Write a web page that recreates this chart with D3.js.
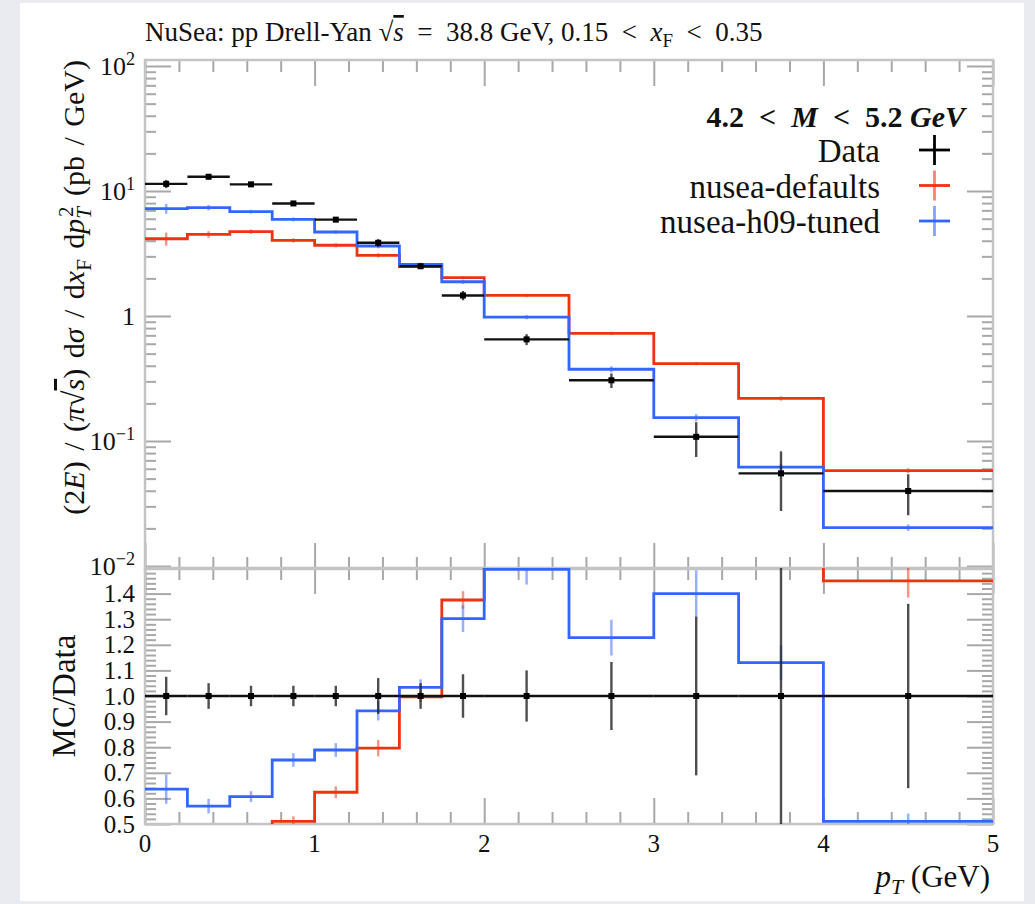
<!DOCTYPE html>
<html>
<head>
<meta charset="utf-8">
<script src="https://cdn.jsdelivr.net/npm/d3@7"></script>
<style>
  html, body { margin: 0; padding: 0; background: #e9ebf1; }
  svg { display: block; }
  text { font-family: "Liberation Serif", "DejaVu Serif", serif; fill: #111; }
</style>
</head>
<body>
<svg id="chart" width="1035" height="904"></svg>
<script>
// bins in pT (GeV)
var binEdges = [0, 0.25, 0.5, 0.75, 1.0, 1.25, 1.5, 1.75, 2.0, 2.5, 3.0, 3.5, 4.0, 5.0];

// data, pb/GeV
var dataVal    = [11.4, 13.0, 11.3, 7.95, 5.9, 3.85, 2.5, 1.46, 0.65, 0.306, 0.108, 0.0551, 0.0398];
var dataRelErr = [0.075, 0.05, 0.04, 0.04, 0.04, 0.07, 0.05, 0.085, 0.10, 0.133, 0.31, 0.50, 0.36];

// nusea-defaults
var defaultsVal    = [4.15, 4.50, 4.73, 4.03, 3.68, 3.06, 2.48, 2.03, 1.46, 0.727, 0.416, 0.219, 0.0579];
var defaultsRatio  = [0.364, 0.346, 0.419, 0.51, 0.624, 0.796, 0.997, 1.375, 2.25, 2.38, 3.85, 3.97, 1.45];
var defaultsRelErr = [0.12, 0.06, 0.04, 0.04, 0.037, 0.04, 0.02, 0.025, 0.03, 0.03, 0.03, 0.04, 0.045];

// nusea-h09-tuned
var tunedVal    = [7.22, 7.36, 6.83, 5.93, 4.70, 3.63, 2.59, 1.88, 0.98, 0.375, 0.154, 0.0619, 0.0203];
var tunedRatio  = [0.636, 0.570, 0.607, 0.75, 0.789, 0.942, 1.034, 1.302, 1.495, 1.228, 1.40, 1.13, 0.51];
var tunedRelErr = [0.09, 0.05, 0.035, 0.036, 0.034, 0.04, 0.03, 0.04, 0.04, 0.057, 0.065, 0.06, 0.06];

var xTickLabels = [0, 1, 2, 3, 4, 5];
var ratioTickLabels = [0.5, 0.6, 0.7, 0.8, 0.9, 1.0, 1.1, 1.2, 1.3, 1.4];
var mainTickLabels = [[1e2, "10", "2"], [1e1, "10", "1"], [1, "1", ""], [1e-1, "10", "\u22121"], [1e-2, "10", "\u22122"]];

var legendNames = ["Data", "nusea-defaults", "nusea-h09-tuned"];
var colors = ["#000000", "#ee3311", "#3366ff"];

// layout
var left = 145, right = 993;
var mainTop = 60, mainBot = 569, ratTop = 568, ratBot = 824;
var sp = "\u2002"; // math spacing around relations

var svg = d3.select("#chart");

svg.append("rect")
  .attr("x", 20).attr("y", 3)
  .attr("width", 1004).attr("height", 898)
  .attr("fill", "#ffffff");

var x = d3.scaleLinear().domain([0, 5]).range([left, right]);
var yMain = d3.scaleLog()
  .domain([Math.pow(10, -2.024), Math.pow(10, 2.048)])
  .range([mainBot, mainTop]);
var yRat = d3.scaleLinear().domain([0.5, 1.5]).range([ratBot, ratTop]);

// rich text: parts are [string, "flags", dx]
function rich(sel, parts, size) {
  var t = sel.append("text").style("font-size", size + "px");
  var shift = 0;
  parts.forEach(function(p) {
    var flags = (p[1] || "").split(" ");
    var ts = t.append("tspan").text(p[0]);
    var target = 0;
    if (flags.indexOf("sub") >= 0) target = 0.22 * size;
    if (flags.indexOf("sup") >= 0) target = -0.38 * size;
    ts.attr("dy", target - shift);
    shift = target;
    if (flags.indexOf("sub") >= 0 || flags.indexOf("sup") >= 0) ts.style("font-size", (0.7 * size) + "px");
    if (flags.indexOf("i") >= 0) ts.style("font-style", "italic");
    if (flags.indexOf("over") >= 0) ts.style("text-decoration", "overline");
    if (p[2] != null) ts.attr("dx", p[2]);
  });
  return t;
}

// ---- frames and ticks
function tickStyle(g) {
  g.select(".domain").remove();
  g.selectAll(".tick line").attr("stroke", "#a8a8a8").attr("stroke-width", 2);
}

var xMinor = d3.range(0, 5.0001, 0.2).filter(function(v) { return Math.abs(v - Math.round(v)) > 1e-6; });

[[mainTop, mainBot], [ratTop, ratBot]].forEach(function(p) {
  svg.append("g").attr("transform", "translate(0," + p[1] + ")")
    .call(d3.axisBottom(x).tickValues(xMinor).tickSize(-12).tickFormat("")).call(tickStyle);
  svg.append("g").attr("transform", "translate(0," + p[1] + ")")
    .call(d3.axisBottom(x).tickValues(xTickLabels).tickSize(-26).tickFormat("")).call(tickStyle);
  svg.append("g").attr("transform", "translate(0," + p[0] + ")")
    .call(d3.axisTop(x).tickValues(xMinor).tickSize(-12).tickFormat("")).call(tickStyle);
  svg.append("g").attr("transform", "translate(0," + p[0] + ")")
    .call(d3.axisTop(x).tickValues(xTickLabels).tickSize(-26).tickFormat("")).call(tickStyle);
});

var logTicks = yMain.ticks().filter(function(v) { return v >= yMain.domain()[0] && v <= yMain.domain()[1]; });
var logMajor = logTicks.filter(function(v) { return Math.abs(Math.log10(v) - Math.round(Math.log10(v))) < 1e-6; });
var logMinor = logTicks.filter(function(v) { return logMajor.indexOf(v) < 0; });

var ratMinor = d3.range(0.5, 1.5001, 0.02).filter(function(v) { return Math.abs(v * 10 - Math.round(v * 10)) > 1e-6; });
var ratMajor = d3.range(0.5, 1.5001, 0.1);

[["L", left], ["R", right]].forEach(function(s) {
  var ax = s[0] == "L" ? d3.axisLeft : d3.axisRight;
  svg.append("g").attr("transform", "translate(" + s[1] + ",0)")
    .call(ax(yMain).tickValues(logMinor).tickSize(-11).tickFormat("")).call(tickStyle);
  svg.append("g").attr("transform", "translate(" + s[1] + ",0)")
    .call(ax(yMain).tickValues(logMajor).tickSize(-26).tickFormat("")).call(tickStyle);
  svg.append("g").attr("transform", "translate(" + s[1] + ",0)")
    .call(ax(yRat).tickValues(ratMinor).tickSize(-11).tickFormat("")).call(tickStyle);
  svg.append("g").attr("transform", "translate(" + s[1] + ",0)")
    .call(ax(yRat).tickValues(ratMajor).tickSize(-26).tickFormat("")).call(tickStyle);
});

[[mainTop, mainBot], [ratTop, ratBot]].forEach(function(p) {
  svg.append("rect")
    .attr("x", left).attr("y", p[0])
    .attr("width", right - left).attr("height", p[1] - p[0])
    .attr("fill", "none").attr("stroke", "#c4c4c4").attr("stroke-width", 2.5);
});

// ---- tick labels
svg.append("g").selectAll("text")
  .data(xTickLabels).enter()
  .append("text")
  .attr("x", function(d) { return x(d); })
  .attr("y", 852)
  .attr("text-anchor", "middle")
  .style("font-size", "25px")
  .text(function(d) { return d; });

svg.append("g").selectAll("text")
  .data(ratioTickLabels).enter()
  .append("text")
  .attr("x", 135)
  .attr("y", function(d) { return yRat(d) + 8.5; })
  .attr("text-anchor", "end")
  .style("font-size", "25px")
  .text(function(d) { return d.toFixed(1); });

mainTickLabels.forEach(function(d) {
  rich(svg, [[d[1]], [d[2], "sup"]], 26)
    .attr("x", 135)
    .attr("y", yMain(d[0]) + 9)
    .attr("text-anchor", "end");
});

// ---- titles
rich(svg, [["NuSea: pp Drell-Yan "], ["\u221A"], ["s", "i over"], [sp + "=" + sp + "38.8 GeV, 0.15" + sp + "<" + sp], ["x", "i"], ["F", "sub"], [sp + "<" + sp + "0.35"]], 27)
  .attr("x", left).attr("y", 41);

rich(svg, [["p", "i"], ["T", "i sub"], [" (GeV)"]], 31)
  .attr("x", 990).attr("y", 887).attr("text-anchor", "end");

rich(svg.append("g").attr("transform", "translate(84," + mainTop + ") rotate(-90)"),
  [["(2"], ["E", "i"], [") / ("], ["\u03C0", "i"], ["\u221A"], ["s", "i over"], [") d"], ["\u03C3", "i"],
   [" / d"], ["x", "i"], ["F", "sub"], [" d"], ["p", "i"], ["T", "i sub"], ["2", "sup", -10], [" (pb / GeV)"]], 30)
  .attr("text-anchor", "end")
  .style("word-spacing", "3px");

svg.append("g").attr("transform", "translate(75," + yRat(1.0) + ") rotate(-90)")
  .append("text")
  .attr("text-anchor", "middle")
  .style("font-size", "33px")
  .text("MC/Data");

// ---- clip paths
var defs = svg.append("defs");
defs.append("clipPath").attr("id", "clipMain").append("rect")
  .attr("x", left).attr("y", mainTop).attr("width", right - left).attr("height", mainBot - mainTop);
defs.append("clipPath").attr("id", "clipRat").append("rect")
  .attr("x", left).attr("y", ratTop).attr("width", right - left).attr("height", ratBot - ratTop);

function stepPoints(vals) {
  var pts = [];
  vals.forEach(function(v, i) {
    pts.push([binEdges[i], v]);
    pts.push([binEdges[i + 1], v]);
  });
  return pts;
}

function centres() {
  return binEdges.slice(0, -1).map(function(e, i) { return (e + binEdges[i + 1]) / 2; });
}

function drawMC(g, yScale, vals, relErr, color) {
  var line = d3.line()
    .x(function(d) { return x(d[0]); })
    .y(function(d) { return yScale(d[1]); });
  var cs = centres();
  g.append("g").selectAll("line")
    .data(vals).enter()
    .append("line")
    .attr("x1", function(d, i) { return x(cs[i]); })
    .attr("x2", function(d, i) { return x(cs[i]); })
    .attr("y1", function(d, i) { return yScale(d * (1 - relErr[i])); })
    .attr("y2", function(d, i) { return yScale(d * (1 + relErr[i])); })
    .attr("stroke", color).attr("stroke-width", 2.5).attr("opacity", 0.5);
  g.append("path")
    .attr("d", line(stepPoints(vals)))
    .attr("fill", "none")
    .attr("stroke", color)
    .attr("stroke-width", 2.8)
    .attr("stroke-linejoin", "miter");
}

function drawData(g, yScale, vals, errs) {
  var cs = centres();
  var gg = g.append("g").selectAll("g")
    .data(vals).enter()
    .append("g");
  gg.append("line")
    .attr("x1", function(d, i) { return x(binEdges[i]); })
    .attr("x2", function(d, i) { return x(binEdges[i + 1]); })
    .attr("y1", function(d) { return yScale(d); })
    .attr("y2", function(d) { return yScale(d); })
    .attr("stroke", "#111").attr("stroke-width", 2.4);
  gg.append("line")
    .attr("x1", function(d, i) { return x(cs[i]); })
    .attr("x2", function(d, i) { return x(cs[i]); })
    .attr("y1", function(d, i) { return yScale(d - errs[i]); })
    .attr("y2", function(d, i) { return yScale(d + errs[i]); })
    .attr("stroke", "#222").attr("stroke-width", 2.4).attr("opacity", 0.8);
  gg.append("rect")
    .attr("x", function(d, i) { return x(cs[i]) - 3; })
    .attr("y", function(d) { return yScale(d) - 3; })
    .attr("width", 6).attr("height", 6)
    .attr("fill", "#000");
}

// ---- main panel
var gMain = svg.append("g").attr("clip-path", "url(#clipMain)");
drawMC(gMain, yMain, defaultsVal, defaultsRelErr, colors[1]);
drawMC(gMain, yMain, tunedVal, tunedRelErr, colors[2]);
drawData(gMain, yMain, dataVal, dataVal.map(function(v, i) { return v * dataRelErr[i]; }));

// ---- ratio panel
var gRat = svg.append("g").attr("clip-path", "url(#clipRat)");
drawMC(gRat, yRat, defaultsRatio, defaultsRelErr, colors[1]);
drawMC(gRat, yRat, tunedRatio, tunedRelErr, colors[2]);
drawData(gRat, yRat, dataVal.map(function() { return 1.0; }), dataRelErr);

// ---- legend
rich(svg, [["4.2" + sp + "<" + sp], ["M", "i"], [sp + "<" + sp + "5.2 "], ["GeV", "i"]], 30)
  .attr("x", 965).attr("y", 127).attr("text-anchor", "end")
  .style("font-weight", "bold");

var leg = svg.append("g").selectAll("g")
  .data(legendNames).enter()
  .append("g")
  .attr("transform", function(d, i) { return "translate(0," + (150 + i * 35.5) + ")"; });

leg.append("text")
  .attr("x", 880).attr("y", 12)
  .attr("text-anchor", "end")
  .style("font-size", "33px")
  .text(function(d) { return d; });
leg.append("line")
  .attr("x1", 919).attr("x2", 950).attr("y1", 0).attr("y2", 0)
  .attr("stroke", function(d, i) { return colors[i]; }).attr("stroke-width", 2.8);
leg.append("line")
  .attr("x1", 934.5).attr("x2", 934.5).attr("y1", -15).attr("y2", 15)
  .attr("stroke", function(d, i) { return colors[i]; }).attr("stroke-width", 2.8)
  .attr("opacity", function(d, i) { return i == 0 ? 1 : 0.6; });
</script>
</body>
</html>
